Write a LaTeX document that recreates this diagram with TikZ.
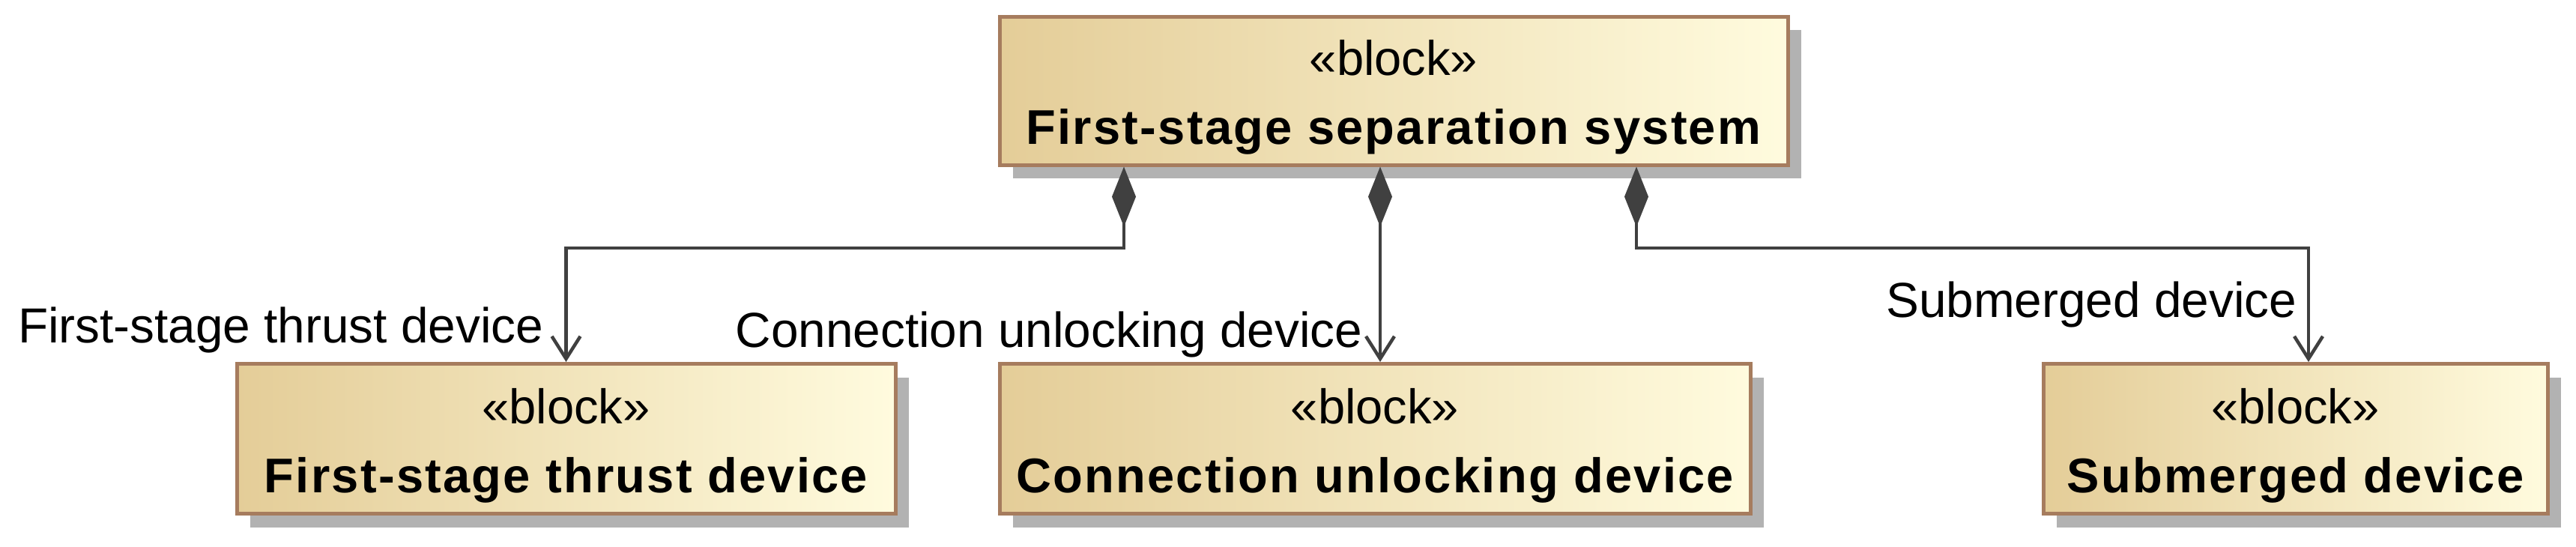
\documentclass[tikz,border=0pt]{standalone}
\usepackage{fontspec}
\setmainfont{Liberation Sans}
\usetikzlibrary{arrows.meta,shadows,positioning}
\definecolor{blockleft}{RGB}{228,205,152}
\definecolor{blockright}{RGB}{255,251,222}
\definecolor{blockedge}{RGB}{166,124,94}
\definecolor{linecolor}{RGB}{64,64,64}
\newcommand{\stereotype}[1]{\rule{0pt}{0.65cm}«#1»}
\newcommand{\blockname}[1]{{\addfontfeature{LetterSpace=3.5}\bfseries #1}}
\tikzset{
	block/.style={
		rectangle,
		draw=blockedge,
		line width=0.05cm,
		left color=blockleft,
		right color=blockright,
		drop shadow={shadow xshift=0.18cm,shadow yshift=-0.18cm,opacity=1,fill=black!30},
		minimum height=2cm,
		align=center,
		font=\fontsize{18.5pt}{26.2pt}\selectfont,
		inner sep=0pt
	},
	part/.style={
		draw=linecolor,
		line width=0.045cm,
		{Diamond[length=0.8cm,width=0.32cm,fill=linecolor]}-{Straight Barb[length=0.3cm,width=0.38cm]}
	},
	role/.style={
		font=\fontsize{18.7pt}{22pt}\selectfont,
		inner sep=0pt,
		anchor=base east
	},
}
\begin{document}
\begin{tikzpicture}
\useasboundingbox (0,0) rectangle (34.38,-7.29);
\node [block,minimum width=10.52cm,minimum height=1.98cm] (sys) at (18.60,-1.21) {\stereotype{block}\\\blockname{First-stage separation system}};
\node [block,minimum width=8.79cm] (thrust) at (7.555,-5.855) {\stereotype{block}\\\blockname{First-stage thrust device}};
\node [block,minimum width=10.02cm] (conn) at (18.35,-5.855) {\stereotype{block}\\\blockname{Connection unlocking device}};
\node [block,minimum width=6.73cm] (sub) at (30.635,-5.855) {\stereotype{block}\\\blockname{Submerged device}};

\coordinate (b1) at (15.00,-3.31);
\coordinate (b2) at (18.42,-3.31);
\coordinate (b3) at (21.84,-3.31);
\coordinate (b4) at (30.81,-3.31);

\draw[part] (sys.south -| b1) -- (b1) -| (thrust.north);
\draw[part] (sys.south -| b2) -- (conn.north -| b2);
\draw[part] (sys.south -| b3) -- (b3) -- (b4) -- (sub.north -| b4);

\node [role] (lthrust) at (7.26,-4.57) {First-stage thrust device};
\node [role] (lconn) at (18.19,-4.63) {Connection unlocking device};
\node [role] (lsub) at (30.66,-4.23) {Submerged device};
\end{tikzpicture}
\end{document}
